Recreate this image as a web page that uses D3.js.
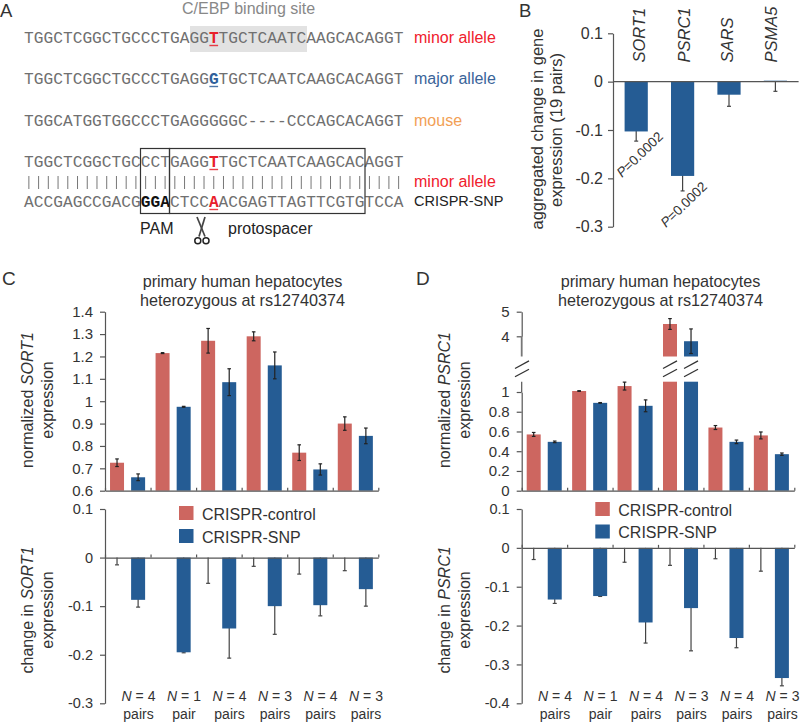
<!DOCTYPE html>
<html><head><meta charset="utf-8">
<script src="https://cdn.jsdelivr.net/npm/d3@7"></script>
<style>
html,body{margin:0;padding:0;background:#fff}
svg{display:block}
text{font-family:"Liberation Sans",Arial,sans-serif;fill:#333}
.mono{font-family:"Liberation Mono",monospace;fill:#707070}
</style></head><body><div id="c"></div>
<script>
// ---- data ----
const seqRows = [
  {seq:"TGGCTCGGCTGCCCTGAGGTTGCTCAATCAAGCACAGGT", hi:{19:["#e8202a",1]}},
  {seq:"TGGCTCGGCTGCCCTGAGGGTGCTCAATCAAGCACAGGT", hi:{19:["#2f5f9a",1]}},
  {seq:"TGGCATGGTGGCCCTGAGGGGGC----CCCAGCACAGGT", hi:{}},
  {seq:"TGGCTCGGCTGCCCTGAGGTTGCTCAATCAAGCACAGGT", hi:{19:["#e8202a",1]}},
  {seq:"ACCGAGCCGACGGGACTCCAACGAGTTAGTTCGTGTCCA", hi:{12:["#111",0],13:["#111",0],14:["#111",0],19:["#e8202a",1]}}
];
const seqLabels = [["minor allele","#f0202c",43],["major allele","#3a6499",84],["mouse","#f2a055",126],["minor allele","#f0202c",187],["CRISPR-SNP","#222",206]];

const genes = ["SORT1","PSRC1","SARS","PSMA5"];
const geneVals = [-0.103,-0.195,-0.027,0.002];
const geneErrEnd = [-0.123,-0.226,-0.051,-0.02];

const sortCtl = [0.725,1.215,1.27,1.29,0.77,0.90];
const sortCtlErr = [0.017,0.002,0.055,0.02,0.035,0.03];
const sortSnp = [0.66,0.975,1.085,1.16,0.695,0.845];
const sortSnpErr = [0.015,0.002,0.06,0.06,0.025,0.035];
const sortChgCtlErr = [-0.015,0,-0.053,-0.018,-0.034,-0.027];
const sortChg = [-0.087,-0.195,-0.146,-0.1,-0.098,-0.065];
const sortChgErr = [-0.102,-0.196,-0.207,-0.158,-0.12,-0.1];

const psrcCtl = [0.57,1.01,1.06,4.5,0.64,0.56];
const psrcCtlErr = [0.02,0.003,0.04,0.22,0.02,0.035];
const psrcSnp = [0.495,0.89,0.86,3.8,0.495,0.37];
const psrcSnpErr = [0.008,0.003,0.06,0.5,0.018,0.012];
const psrcChgCtlErr = [-0.03,0,-0.037,-0.045,-0.028,-0.06];
const psrcChg = [-0.133,-0.124,-0.192,-0.155,-0.232,-0.335];
const psrcChgErr = [-0.143,-0.125,-0.245,-0.265,-0.257,-0.355];

const nLabels = ["4","1","4","3","4","3"];
const pairLabels = ["pairs","pair","pairs","pairs","pairs","pairs"];
const sortTicksTop = [0.6,0.7,0.8,0.9,1,1.1,1.2,1.3,1.4];
const sortTicksBot = [0.1,0,-0.1,-0.2,-0.3];
const psrcTicksLow = [0,0.2,0.4,0.6,0.8,1];
const psrcTicksHigh = [4,5];
const psrcTicksBot = [0.1,0,-0.1,-0.2,-0.3,-0.4];
const geneTicks = [0.1,0,-0.1,-0.2,-0.3];
const legendNames = ["CRISPR-control","CRISPR-SNP"];
const RED="#cd6660", BLUE="#255c94", AX="#555";

// ---- drawing ----
const svg = d3.select("#c").append("svg").attr("width",800).attr("height",722);
const fmt = d => String(+d.toFixed(2));

function txt(x,y,s,size,o={}){
  const t = svg.append("text").attr("x",x).attr("y",y).attr("font-size",size)
    .attr("text-anchor",o.anchor||"start");
  if(o.fill) t.style("fill",o.fill);
  if(o.rot!==undefined) t.attr("transform",`rotate(${o.rot} ${x} ${y})`);
  (Array.isArray(s)?s:[s]).forEach(p=>{
    if(typeof p==="string") t.append("tspan").text(p);
    else t.append("tspan").attr("font-style","italic").text(p.i);
  });
  return t;
}
function yAxis(scale,ticks,x,size,dx){
  const g = svg.append("g").attr("transform",`translate(${x},0)`)
    .call(d3.axisLeft(scale).tickValues(ticks).tickSize(5).tickSizeOuter(0).tickFormat(fmt));
  g.selectAll("path,line").attr("stroke",AX).attr("stroke-width",1.2);
  g.selectAll("text").attr("font-size",size).attr("font-family",null).attr("dx",dx===undefined?-4:dx);
  return g;
}
function xAxis(scale,y){
  const g = svg.append("g").attr("transform",`translate(0,${y})`)
    .call(d3.axisBottom(scale).tickValues(d3.range(0,7)).tickSize(-3).tickSizeOuter(0).tickFormat(""));
  g.selectAll("path,line").attr("stroke",AX).attr("stroke-width",1.2);
}
function errBar(x,y0,y1,cap,col,w){
  svg.append("line").attr("x1",x).attr("x2",x).attr("y1",y0).attr("y2",y1).attr("stroke",col).attr("stroke-width",w||1.2);
  [y0,y1].forEach(y=>svg.append("line").attr("x1",x-cap).attr("x2",x+cap).attr("y1",y).attr("y2",y).attr("stroke",col).attr("stroke-width",w||1.2));
}
const OFF=[0.264,0.727], BW=14;

// Panel A
txt(0,16.5,"A",18.5); txt(519,16.5,"B",18.5); txt(2,285,"C",19); txt(416,285,"D",19);
const cx = d3.scaleLinear().domain([0,39]).range([24,403.5]);
const rowY = d3.scaleOrdinal().domain([0,1,2,3,4]).range([43,84,126,167,207]);
svg.append("rect").attr("x",190).attr("y",26).attr("width",117).attr("height",26).attr("fill","#e2e2e2");
txt(182,14,"C/EBP binding site",16,{fill:"#888"});
seqRows.forEach((r,ri)=>{
  r.seq.split("").forEach((ch,i)=>{
    const h=r.hi[i];
    const t=svg.append("text").attr("class","mono").attr("x",cx(i+.5)).attr("y",rowY(ri)).attr("text-anchor","middle")
      .attr("font-size",16.2).text(ch);
    if(h){
      t.style("fill",h[0]).attr("font-weight","bold");
      if(h[1]) svg.append("line").attr("x1",cx(i)+.5).attr("x2",cx(i+1)-.5).attr("y1",rowY(ri)+2.5).attr("y2",rowY(ri)+2.5).attr("stroke",h[0]).attr("stroke-width",1.4).attr("opacity",.85);
    }
  });
});
d3.range(39).forEach(i=>svg.append("line").attr("x1",cx(i+.5)).attr("x2",cx(i+.5)).attr("y1",176).attr("y2",189).attr("stroke","#777").attr("stroke-width",1));
seqLabels.forEach(l=>txt(414,l[2],l[0],l[1]==="#222"?14.5:16,{fill:l[1]}));
[[140.5,169.5],[169.5,365]].forEach(b=>svg.append("rect").attr("x",b[0]).attr("y",148.5).attr("width",b[1]-b[0]).attr("height",65).attr("fill","none").attr("stroke","#333").attr("stroke-width",1.2));
txt(140,234,"PAM",16,{fill:"#222"}); txt(228,234,"protospacer",16,{fill:"#222"});
// scissors
[[197,217,205,236.5],[205,217,199,236.5]].forEach(s=>svg.append("line").attr("x1",s[0]).attr("y1",s[1]).attr("x2",s[2]).attr("y2",s[3]).attr("stroke","#444").attr("stroke-width",1.7));
[[197.8,240.7],[206,240.7]].forEach(c=>svg.append("circle").attr("cx",c[0]).attr("cy",c[1]).attr("r",3).attr("fill","none").attr("stroke","#222").attr("stroke-width",1.5));

// Panel B
const by = d3.scaleLinear().domain([0.1,-0.3]).range([33.3,226.7]);
const bx = d3.scaleBand().domain(genes).range([613,798.6]).paddingInner(0.5).paddingOuter(0.25);
const geneLabelX = [645,690,733,777];
genes.forEach((g,i)=>{
  const x=bx(g), w=bx.bandwidth(), c=x+w/2;
  svg.append("line").attr("x1",c).attr("x2",c).attr("y1",by(0)).attr("y2",by(geneErrEnd[i])).attr("stroke","#444").attr("stroke-width",1.2);
  svg.append("line").attr("x1",c-2).attr("x2",c+2).attr("y1",by(geneErrEnd[i])).attr("y2",by(geneErrEnd[i])).attr("stroke","#444").attr("stroke-width",1.2);
  svg.append("rect").attr("x",x).attr("width",w).attr("y",by(Math.max(0,geneVals[i]))).attr("height",Math.abs(by(geneVals[i])-by(0))).attr("fill",BLUE);
  txt(geneLabelX[i],62.5,[{i:g}],16.5,{rot:-90});
});
yAxis(by,geneTicks,613,16,-2);
svg.append("line").attr("x1",613).attr("x2",798.6).attr("y1",by(0)).attr("y2",by(0)).attr("stroke",AX).attr("stroke-width",1.2);
txt(622,178,[{i:"P"},"=0.0002"],13.5,{rot:-44});
txt(666,228,[{i:"P"},"=0.0002"],13.5,{rot:-44});
txt(542.7,129,"aggregated change in gene",16.5,{rot:-90,anchor:"middle"});
txt(561.7,130,"expression (19 pairs)",16.5,{rot:-90,anchor:"middle"});

// shared helpers
function titles(c){
  txt(c,286.5,"primary human hepatocytes",16.2,{anchor:"middle"});
  txt(c,306,"heterozygous at rs12740374",16.2,{anchor:"middle"});
}
function ylabels(x,g,y,a){
  txt(x,y,[a,{i:g}],16,{rot:-90,anchor:"middle"});
  txt(x+20,y,"expression",16,{rot:-90,anchor:"middle"});
}
function legend(x,y1,y2,h){
  [RED,BLUE].forEach((c,i)=>{
    const y=i?y2:y1;
    svg.append("rect").attr("x",x).attr("y",y).attr("width",14.5).attr("height",h).attr("fill",c);
    txt(x+23,y+13.5,legendNames[i],16);
  });
}
function nlabs(x0){
  const s=d3.scaleLinear().domain([0,5]).range([x0,x0+227.5]);
  nLabels.forEach((n,i)=>{
    txt(s(i),700.5,[{i:"N"}," = "+n],14,{anchor:"middle"});
    txt(s(i),719,pairLabels[i],14,{anchor:"middle"});
  });
}
function changePanel(x,y,y0,ctlErr,vals,errs){
  vals.forEach((v,i)=>{
    const rc=x(i+OFF[0]), bc=x(i+OFF[1]);
    if(ctlErr[i]!==0){
      svg.append("line").attr("x1",rc).attr("x2",rc).attr("y1",y0).attr("y2",y(ctlErr[i])).attr("stroke","#444").attr("stroke-width",1.2);
      svg.append("line").attr("x1",rc-2).attr("x2",rc+2).attr("y1",y(ctlErr[i])).attr("y2",y(ctlErr[i])).attr("stroke","#444").attr("stroke-width",1.2);
    }
    svg.append("line").attr("x1",bc).attr("x2",bc).attr("y1",y0).attr("y2",y(errs[i])).attr("stroke","#444").attr("stroke-width",1.2);
    svg.append("line").attr("x1",bc-2).attr("x2",bc+2).attr("y1",y(errs[i])).attr("y2",y(errs[i])).attr("stroke","#444").attr("stroke-width",1.2);
    svg.append("rect").attr("x",bc-BW/2).attr("width",BW).attr("y",y0).attr("height",y(v)-y0).attr("fill",BLUE);
  });
}

// Panel C
titles(242.5);
const cX = d3.scaleLinear().domain([0,6]).range([105,378.3]);
const cY = d3.scaleLinear().domain([0.6,1.4]).range([490.7,311.7]);
[[sortCtl,sortCtlErr,RED,0],[sortSnp,sortSnpErr,BLUE,1]].forEach(([v,e,col,k])=>{
  v.forEach((d,i)=>{
    const c=cX(i+OFF[k]);
    svg.append("rect").attr("x",c-BW/2).attr("width",BW).attr("y",cY(d)).attr("height",cY(0.6)-cY(d)).attr("fill",col);
    errBar(c,cY(d+e[i]),cY(d-e[i]),1.8,"#222");
  });
});
yAxis(cY,sortTicksTop,105,15);
xAxis(cX,490.7);
ylabels(33,"SORT1",400,"normalized ");
const cY2 = d3.scaleLinear().domain([0.1,-0.3]).range([509,703.3]);
changePanel(cX,cY2,cY2(0),sortChgCtlErr,sortChg,sortChgErr);
yAxis(cY2,sortTicksBot,105,14.5);
xAxis(cX,cY2(0));
ylabels(33,"SORT1",610,"change in ");
legend(179,506,529,14);
nlabs(138.5);

// Panel D
titles(660.5);
const dX = d3.scaleLinear().domain([0,6]).range([521.7,794.3]);
const dLow = d3.scaleLinear().domain([0,1]).range([490.7,392]);
const dHigh = d3.scaleLinear().domain([4,5]).range([336.3,311.7]);
const LOWTOP=381.7, HIGHBOT=356.5, BREAKS=[364.7,373];
const dTop = v => v>1.1 ? dHigh(v) : dLow(v);
[[psrcCtl,psrcCtlErr,RED,0],[psrcSnp,psrcSnpErr,BLUE,1]].forEach(([v,e,col,k])=>{
  v.forEach((d,i)=>{
    const c=dX(i+OFF[k]);
    if(d>1.1){
      svg.append("rect").attr("x",c-BW/2).attr("width",BW).attr("y",dTop(d)).attr("height",HIGHBOT-dTop(d)).attr("fill",col);
      svg.append("rect").attr("x",c-BW/2).attr("width",BW).attr("y",LOWTOP).attr("height",dLow(0)-LOWTOP).attr("fill",col);
      BREAKS.forEach(y=>svg.append("line").attr("x1",c-7).attr("x2",c+7).attr("y1",y+3.8).attr("y2",y-3.8).attr("stroke","#333").attr("stroke-width",1.3));
    } else {
      svg.append("rect").attr("x",c-BW/2).attr("width",BW).attr("y",dTop(d)).attr("height",dLow(0)-dTop(d)).attr("fill",col);
    }
    errBar(c,dTop(d+e[i]),dTop(d-e[i]),1.8,"#222");
  });
});
yAxis(dLow,psrcTicksLow,521.7,15);
svg.append("line").attr("x1",521.7).attr("x2",521.7).attr("y1",LOWTOP).attr("y2",dLow(1)).attr("stroke",AX).attr("stroke-width",1.2);
yAxis(dHigh,psrcTicksHigh,521.7,15);
svg.append("line").attr("x1",521.7).attr("x2",521.7).attr("y1",dHigh(4)).attr("y2",HIGHBOT).attr("stroke","#777").attr("stroke-width",1.8);
BREAKS.forEach(y=>svg.append("line").attr("x1",515).attr("x2",529).attr("y1",y+3.8).attr("y2",y-3.8).attr("stroke","#333").attr("stroke-width",1.3));
xAxis(dX,490.7);
ylabels(450,"PSRC1",400,"normalized ");
const dY2 = d3.scaleLinear().domain([0.1,-0.4]).range([509,703.3]);
changePanel(dX,dY2,dY2(0),psrcChgCtlErr,psrcChg,psrcChgErr);
yAxis(dY2,psrcTicksBot,521.7,14.5);
xAxis(dX,dY2(0));
ylabels(450,"PSRC1",610,"change in ");
legend(595.3,502,524.5,14);
nlabs(555);
</script></body></html>
